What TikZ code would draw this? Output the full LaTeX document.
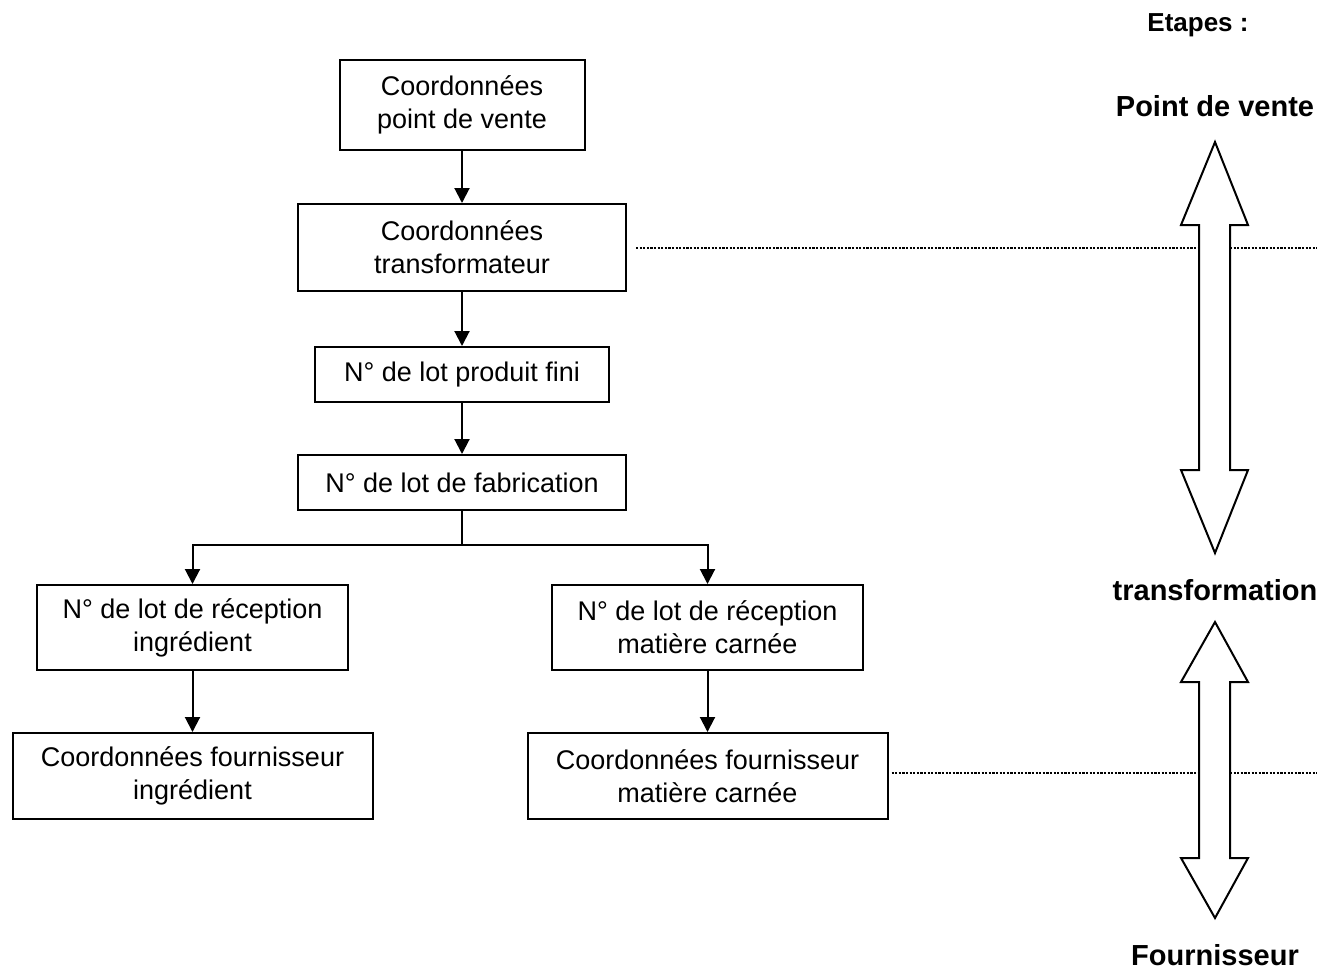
\documentclass[tikz,border=0pt]{standalone}
\usepackage{fontspec}
\setmainfont{Liberation Sans}
\usetikzlibrary{arrows.meta,positioning}

\begin{document}
\begin{tikzpicture}[x=0.5pt,y=-0.5pt,
    boite/.style={draw, line width=1pt, align=center, inner sep=0pt,
        font=\fontsize{13.5}{16.5}\selectfont},
    lien/.style={line width=1pt, -{Triangle[length=7.5pt,width=7.5pt]}},
    pointille/.style={line width=1.1pt, dash pattern=on 1.1pt off 0.7pt},
    etape/.style={font=\fontsize{14.5}{16}\selectfont\bfseries},
    fleche/.style={draw, line width=1pt, fill=white, line join=miter}]

    \useasboundingbox (0,0) rectangle (1317,971);

    % Chaine de tracabilite
    \node[boite, minimum width=122.5pt, minimum height=45pt] (pv) at (462,105) {Coordonnées\\point de vente};
    \node[boite, minimum width=164pt, minimum height=43.5pt] (tr) at (462,247.5) {Coordonnées\\transformateur};
    \node[boite, minimum width=147pt, minimum height=27.5pt] (pf) at (462,374.5) {N° de lot produit fini};
    \node[boite, minimum width=164pt, minimum height=27.5pt] (fab) at (462,482.5) {N° de lot de fabrication};
    \node[boite, minimum width=155.5pt, minimum height=42.5pt] (ing) at (192.5,627.5) {N° de lot de réception\\ingrédient};
    \node[boite, minimum width=155.5pt, minimum height=42.5pt] (mc) at (707.5,627.5) {N° de lot de réception\\matière carnée};
    \node[boite, minimum width=180pt, minimum height=43pt] (fing) at (192.5,776) {Coordonnées fournisseur\\ingrédient};
    \node[boite, minimum width=180pt, minimum height=43pt] (fmc) at (707.5,776) {Coordonnées fournisseur\\matière carnée};

    % Liaisons
    \draw[lien] (pv) -- (tr);
    \draw[lien] (tr) -- (pf);
    \draw[lien] (pf) -- (fab);
    \coordinate (embr) at (462,545);
    \draw[line width=1pt] (fab) -- (embr);
    \draw[lien] (embr) -| (ing);
    \draw[lien] (embr) -| (mc);
    \draw[lien] (ing) -- (fing);
    \draw[lien] (mc) -- (fmc);

    % Niveaux (pointilles)
    \coordinate (bord1) at (1317,248);
    \coordinate (bord2) at (1317,773);
    \draw[pointille, shorten <=4.5pt] (tr.east |- bord1) -- (bord1);
    \draw[pointille, shorten <=1.5pt] (fmc.east |- bord2) -- (bord2);

    % Etapes
    \node[font=\fontsize{13}{15}\selectfont\bfseries] (titre) at (1198,25) {Etapes :};
    \node[etape] (vente) at (1215,106) {Point de vente};
    \node[etape] (transfo) at (1215,590) {transformation};
    \node[etape] (fourn) at (1215,955) {Fournisseur};

    % Fleches doubles
    \draw[fleche] (1215,142) -- (1248,225) -- (1230,225) -- (1230,470) -- (1248,470)
        -- (1215,553) -- (1181,470) -- (1199,470) -- (1199,225) -- (1181,225) -- cycle;
    \draw[fleche] (1215,622) -- (1248,682) -- (1230,682) -- (1230,858) -- (1248,858)
        -- (1215,918) -- (1181,858) -- (1199,858) -- (1199,682) -- (1181,682) -- cycle;
\end{tikzpicture}
\end{document}
